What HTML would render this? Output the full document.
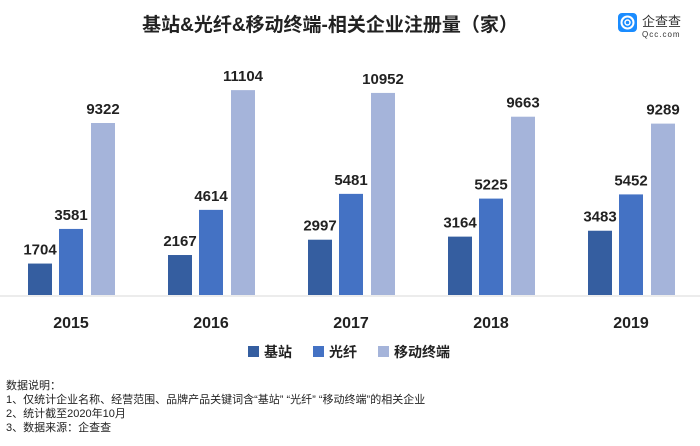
<!DOCTYPE html>
<html><head><meta charset="utf-8"><style>
body{margin:0;background:#fff;width:700px;height:441px;overflow:hidden;font-family:"Liberation Sans","Noto Sans CJK SC",sans-serif}
</style></head><body>
<svg width="700" height="441" xmlns="http://www.w3.org/2000/svg" font-family="Liberation Sans, Noto Sans CJK SC, sans-serif">
<text x="330" y="31" text-anchor="middle" font-size="19" font-weight="bold" fill="#222">基站&amp;光纤&amp;移动终端-相关企业注册量（家）</text>
<rect x="618" y="13" width="19" height="19" rx="4" fill="#1a8cff"/>
<circle cx="627.5" cy="22.5" r="6" fill="none" stroke="#fff" stroke-width="2"/>
<circle cx="627.5" cy="22.5" r="2.5" fill="none" stroke="#fff" stroke-width="1.5"/>
<text x="642" y="26" font-size="13" fill="#333">企查查</text>
<text x="642" y="37" font-size="8" fill="#333" letter-spacing="1">Qcc.com</text>
<line x1="0" y1="296" x2="700" y2="296" stroke="#d9d9d9" stroke-width="1"/>
<g id="bars"></g>
<g font-size="16" font-weight="bold" fill="#222" text-anchor="middle">
<text x="71" y="328">2015</text><text x="211" y="328">2016</text><text x="351" y="328">2017</text><text x="491" y="328">2018</text><text x="631" y="328">2019</text>
</g>
<g font-size="14" font-weight="bold" fill="#222">
<rect x="248" y="346" width="11" height="11" fill="#355ea0"/><text x="264" y="357">基站</text>
<rect x="313" y="346" width="11" height="11" fill="#4472c4"/><text x="329" y="357">光纤</text>
<rect x="378" y="346" width="11" height="11" fill="#a5b4da"/><text x="394" y="357">移动终端</text>
</g>
<g font-size="11" fill="#222">
<text x="6" y="389">数据说明：</text>
<text x="6" y="403">1、仅统计企业名称、经营范围、品牌产品关键词含“基站”  “光纤”  “移动终端”的相关企业</text>
<text x="6" y="417">2、统计截至2020年10月</text>
<text x="6" y="431">3、数据来源：企查查</text>
</g>
</svg>
<script>
var d=[[1704,3581,9322],[2167,4614,11104],[2997,5481,10952],[3164,5225,9663],[3483,5452,9289]];
var c=["#355ea0","#4472c4","#a5b4da"],off=[28,59,91],s=172/9322,h="";
d.forEach(function(g,i){g.forEach(function(v,j){var x=off[j]+i*140,hh=v*s,y=295-hh;
h+='<rect x="'+x+'" y="'+y+'" width="24" height="'+hh+'" fill="'+c[j]+'"/>';
h+='<text x="'+(x+12)+'" y="'+(y-9)+'" text-anchor="middle" font-size="15" font-weight="bold" fill="#222">'+v+'</text>';});});
document.getElementById("bars").innerHTML=h;
</script>
</body></html>
